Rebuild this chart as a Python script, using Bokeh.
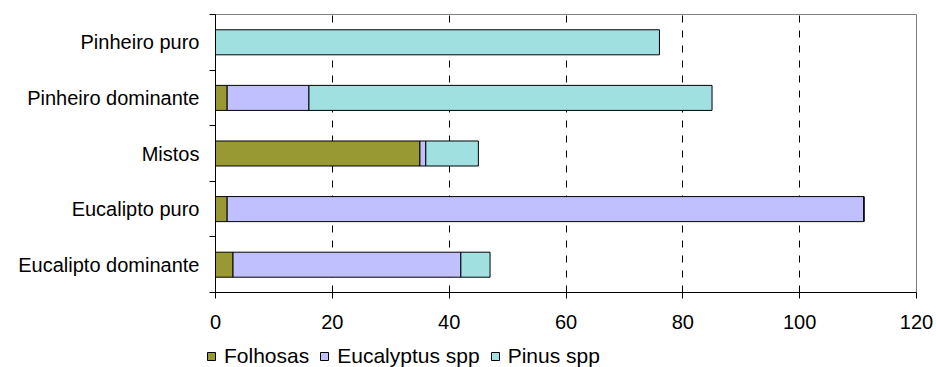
from bokeh.plotting import figure
from bokeh.layouts import column, row
from bokeh.models import (ColumnDataSource, Range1d, FixedTicker, Legend, LegendItem)
from bokeh.embed import file_html
from bokeh.resources import INLINE

# Stand types, listed bottom to top
categories = ["Eucalipto dominante", "Eucalipto puro", "Mistos",
              "Pinheiro dominante", "Pinheiro puro"]
folhosas = [3, 2, 35, 2, 0]
eucalyptus = [39, 109, 1, 14, 0]
pinus = [5, 0, 9, 69, 76]
series_names = ["Folhosas", "Eucalyptus spp", "Pinus spp"]
series_colors = ["#999933", "#C0C0FF", "#A0E0E0"]
x_ticks = [0, 20, 40, 60, 80, 100, 120]

FONT = "Liberation Sans"

ypos = [i + 0.5 for i in range(len(categories))]
source = ColumnDataSource(dict(y=ypos, Folhosas=folhosas,
                               Eucalyptus=eucalyptus, Pinus=pinus))

p = figure(width=936, height=336, output_backend="svg", toolbar_location=None,
           x_range=Range1d(0, 120), y_range=Range1d(0, len(categories)),
           min_border_left=215, min_border_right=20, min_border_top=14,
           min_border_bottom=44)

p.hbar_stack(["Folhosas", "Eucalyptus", "Pinus"], y="y", height=0.45,
             fill_color=series_colors, line_color="black",
             line_width=1, source=source)

# frame border
p.outline_line_color = "#808080"
p.outline_line_width = 1
p.background_fill_color = "white"
p.border_fill_color = "white"

# vertical dashed grid
p.ygrid.visible = False
p.xgrid.ticker = FixedTicker(ticks=[20, 40, 60, 80, 100])
p.xgrid.grid_line_color = "black"
p.xgrid.grid_line_dash = "7 8"
p.xgrid.grid_line_width = 1

# x axis
xa = p.xaxis[0]
xa.ticker = FixedTicker(ticks=x_ticks, minor_ticks=[])
xa.axis_line_color = "black"
xa.major_tick_line_color = "black"
xa.major_tick_out = 6
xa.major_tick_in = 0
xa.minor_tick_line_color = None
xa.major_label_text_font = FONT
xa.major_label_text_font_size = "20px"
xa.major_label_text_color = "black"
xa.major_label_standoff = 16

# y axis: labels centred on bars, tick marks between categories
ya = p.yaxis[0]
ya.ticker = FixedTicker(ticks=ypos, minor_ticks=list(range(len(categories) + 1)))
ya.major_label_overrides = {y: c for y, c in zip(ypos, categories)}
ya.axis_line_color = "black"
ya.major_tick_line_color = None
ya.major_tick_out = 0
ya.major_tick_in = 0
ya.minor_tick_line_color = "black"
ya.minor_tick_out = 6
ya.minor_tick_in = 0
ya.major_label_text_font = FONT
ya.major_label_text_font_size = "20px"
ya.major_label_text_color = "black"
ya.major_label_standoff = 10

# legend strip underneath the chart
leg = figure(width=936, height=31, output_backend="svg", toolbar_location=None,
             x_range=Range1d(0, 936), y_range=Range1d(0, 31),
             min_border=0, outline_line_color=None)
leg.axis.visible = False
leg.grid.visible = False
# one off-screen bar per series, only used for the legend swatches
swatches = [leg.hbar(y=[-100], right=[1], height=1, fill_color=c, line_color="black")
            for c in series_colors]

legend = Legend(items=[LegendItem(label=n, renderers=[r])
                       for n, r in zip(series_names, swatches)],
                orientation="horizontal", location=(206, -1),
                glyph_width=10, glyph_height=10, label_standoff=8, spacing=10,
                padding=0, margin=0, border_line_color=None,
                background_fill_alpha=0,
                label_text_font=FONT, label_text_font_size="21px",
                label_text_color="black")
leg.add_layout(legend, "center")

open("out.html", "w").write(file_html(column(p, row(leg), spacing=0), INLINE))
